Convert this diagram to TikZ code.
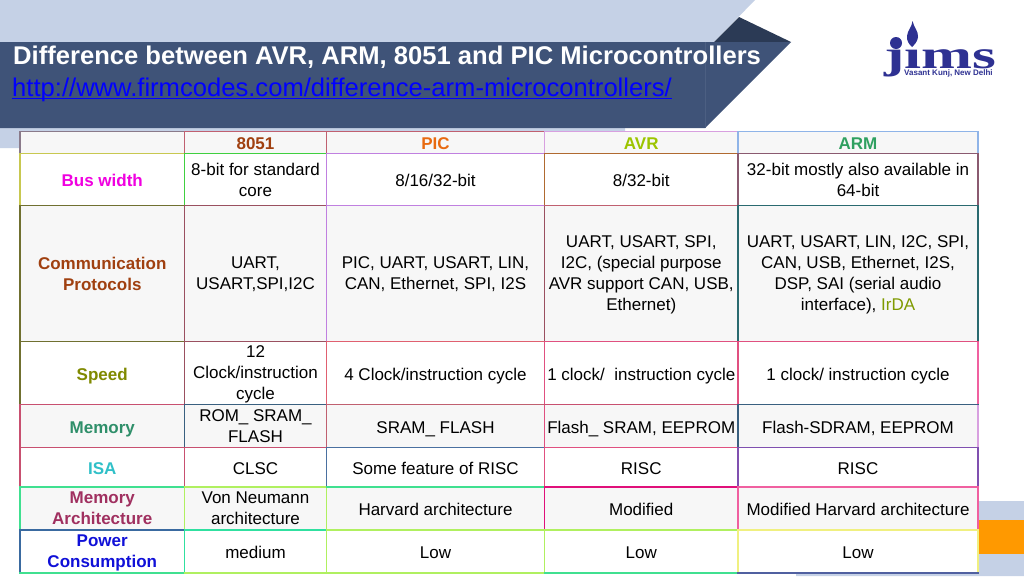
\documentclass[tikz,border=0pt]{standalone}
\usepackage{fontspec}
\setmainfont{Liberation Sans}
\newfontfamily\logofont{Liberation Serif}
\definecolor{bandL}{HTML}{C5D1E6}
\definecolor{bandD}{HTML}{3F5378}
\definecolor{bandT}{HTML}{2B3A55}
\definecolor{orng}{HTML}{FF9900}
\definecolor{logoB}{HTML}{2E3192}
\definecolor{tA}{HTML}{F000E0}
\definecolor{tB}{HTML}{A04010}
\definecolor{tC}{HTML}{E86A10}
\definecolor{tD}{HTML}{9CC400}
\definecolor{tE}{HTML}{2FA060}
\definecolor{tF}{HTML}{808A00}
\definecolor{tG}{HTML}{2F8F6A}
\definecolor{tH}{HTML}{30C0C8}
\definecolor{tI}{HTML}{A03060}
\definecolor{tJ}{HTML}{1010D8}
\definecolor{tK}{HTML}{7F9A00}
\definecolor{gA}{HTML}{8A7A8A}
\definecolor{gB}{HTML}{C06070}
\definecolor{gC}{HTML}{D8A0E0}
\definecolor{gD}{HTML}{8FB4E8}
\definecolor{gE}{HTML}{C8C850}
\definecolor{gF}{HTML}{40D040}
\definecolor{gG}{HTML}{C080E0}
\definecolor{gH}{HTML}{B06A30}
\definecolor{gI}{HTML}{8A5A70}
\definecolor{gJ}{HTML}{707030}
\definecolor{gK}{HTML}{9A5060}
\definecolor{gL}{HTML}{2A6A70}
\definecolor{gM}{HTML}{E06070}
\definecolor{gN}{HTML}{E05080}
\definecolor{gO}{HTML}{C85070}
\definecolor{gP}{HTML}{3A6080}
\definecolor{gQ}{HTML}{4A70A0}
\definecolor{gR}{HTML}{8050B0}
\definecolor{gS}{HTML}{40E090}
\definecolor{gT}{HTML}{B0F060}
\definecolor{gU}{HTML}{E0107A}
\definecolor{gV}{HTML}{F060A0}
\definecolor{gW}{HTML}{3A6AA0}
\definecolor{gX}{HTML}{30E0A0}
\definecolor{gY}{HTML}{F0F080}
\definecolor{gZ}{HTML}{5060A0}
\newcommand{\lowerA}{\rule[-3pt]{0pt}{0pt}}
\tikzset{
  tcell/.style={inner sep=0pt,outer sep=0pt,align=center,text=black,font=\fontsize{17}{21}\selectfont,anchor=north west,text depth=0pt,execute at begin node={\rule{0pt}{14pt}}},
  oddrow/.style={fill=white},
  evenrow/.style={fill=black!3},
  head/.style={font=\fontsize{17}{21}\selectfont\bfseries},
  gline/.style={line width=1.05pt,line cap=rect}
}
\begin{document}
\begin{tikzpicture}[x=1pt,y=-1pt]
\useasboundingbox (0,0) rectangle (1024,576);
\fill[white] (0,0) rectangle (1024,576);
% banner
\fill[bandL] (0,0) -- (755,0) -- (714,42) -- (0,42) -- cycle;
\fill[bandL] (0,128) -- (625,128) -- (625,132) -- (20,132) -- (20,148) -- (0,148) -- cycle;
\fill[bandT] (714,42) -- (739,17) -- (791,42) -- cycle;
\fill[bandD] (0,42) -- (791,42) -- (705,128) -- (0,128) -- cycle;
\draw[bandD!93!white,line width=.4pt] (705,42) -- (705,128);
% lower right decoration
\fill[bandL] (978,501) -- (1024,501) -- (1024,576) -- (796,576) -- (796,572) -- (978,572) -- cycle;
\fill[orng] (978,520) rectangle (1024,554);
% title
\node[anchor=base west,inner sep=0pt,text=white,font=\fontsize{25.6}{30}\selectfont\bfseries] (title) at (13,64) {Difference between AVR, ARM, 8051 and PIC Microcontrollers};
\node[anchor=base west,inner sep=0pt,text=blue,font=\fontsize{25.6}{30}\selectfont] (link) at (12,96) {http://www.firmcodes.com/difference-arm-microcontrollers/};
\draw[blue,line width=1.3pt] ([yshift=3pt]link.south west) -- ([yshift=3pt]link.south east);
% logo
\node[anchor=base west,inner sep=0pt,text=logoB,font=\fontsize{40}{40}\logofont\bfseries,xscale=1.53,transform shape,text depth=0pt] (logo) at (884,68.5) {jims};
\fill[white] (905,36) rectangle (922,49);
\fill[logoB] (896,43) circle (6);
\fill[logoB] (912.5,21) .. controls (914,28) and (918.5,31) .. (918,37) .. controls (917.5,42) and (914,45) .. (912,47) .. controls (909,44) and (906.5,41) .. (907,36) .. controls (907.5,30) and (912,27) .. (912.5,21) -- cycle;
\node[anchor=base west,inner sep=0pt,text=logoB,font=\fontsize{8}{8}\selectfont\bfseries] (logosub) at (904,75.5) {Vasant Kunj, New Delhi};
% table cells: row 0
\node[tcell,evenrow,minimum width=164.5pt,minimum height=22pt] (c00) at (20,131.5) {};
\node[tcell,evenrow,head,text=tB,minimum width=142pt,minimum height=22pt] (c01) at (184.5,131.5) {8051};
\node[tcell,evenrow,head,text=tC,minimum width=218pt,minimum height=22pt] (c02) at (326.5,131.5) {PIC};
\node[tcell,evenrow,head,text=tD,minimum width=193.5pt,minimum height=22pt] (c03) at (544.5,131.5) {AVR};
\node[tcell,evenrow,head,text=tE,minimum width=240pt,minimum height=22pt] (c04) at (738,131.5) {ARM};
% row 1
\node[tcell,oddrow,head,text=tA,minimum width=164.5pt,minimum height=52pt] (c10) at (20,153.5) {Bus width};
\node[tcell,oddrow,minimum width=142pt,minimum height=52pt] (c11) at (184.5,153.5) {8-bit for standard\\core};
\node[tcell,oddrow,minimum width=218pt,minimum height=52pt] (c12) at (326.5,153.5) {8/16/32-bit};
\node[tcell,oddrow,minimum width=193.5pt,minimum height=52pt] (c13) at (544.5,153.5) {8/32-bit};
\node[tcell,oddrow,minimum width=240pt,minimum height=52pt] (c14) at (738,153.5) {32-bit mostly also available in\\64-bit};
% row 2
\node[tcell,evenrow,head,text=tB,minimum width=164.5pt,minimum height=136pt] (c20) at (20,205.5) {Communication\\Protocols};
\node[tcell,evenrow,minimum width=142pt,minimum height=136pt] (c21) at (184.5,205.5) {UART,\\USART,SPI,I2C};
\node[tcell,evenrow,minimum width=218pt,minimum height=136pt] (c22) at (326.5,205.5) {PIC, UART, USART, LIN,\\CAN, Ethernet, SPI, I2S};
\node[tcell,evenrow,minimum width=193.5pt,minimum height=136pt] (c23) at (544.5,205.5) {UART, USART, SPI,\\I2C, (special purpose\\AVR support CAN, USB,\\Ethernet)};
\node[tcell,evenrow,minimum width=240pt,minimum height=136pt] (c24) at (738,205.5) {UART, USART, LIN, I2C, SPI,\\CAN, USB, Ethernet, I2S,\\DSP, SAI (serial audio\\interface), \textcolor{tK}{IrDA}};
% row 3
\node[tcell,oddrow,head,text=tF,minimum width=164.5pt,minimum height=63pt] (c30) at (20,341.5) {Speed};
\node[tcell,oddrow,minimum width=142pt,minimum height=63pt] (c31) at (184.5,341.5) {12\\Clock/instruction\\cycle};
\node[tcell,oddrow,minimum width=218pt,minimum height=63pt] (c32) at (326.5,341.5) {4 Clock/instruction cycle};
\node[tcell,oddrow,minimum width=193.5pt,minimum height=63pt] (c33) at (544.5,341.5) {1 clock/\ \ instruction cycle};
\node[tcell,oddrow,minimum width=240pt,minimum height=63pt] (c34) at (738,341.5) {1 clock/ instruction cycle};
% row 4
\node[tcell,evenrow,head,text=tG,minimum width=164.5pt,minimum height=43pt] (c40) at (20,404.5) {Memory};
\node[tcell,evenrow,minimum width=142pt,minimum height=43pt] (c41) at (184.5,404.5) {ROM\_ SRAM\_\\FLASH};
\node[tcell,evenrow,minimum width=218pt,minimum height=43pt] (c42) at (326.5,404.5) {SRAM\_ FLASH};
\node[tcell,evenrow,minimum width=193.5pt,minimum height=43pt] (c43) at (544.5,404.5) {Flash\_ SRAM, EEPROM};
\node[tcell,evenrow,minimum width=240pt,minimum height=43pt] (c44) at (738,404.5) {Flash-SDRAM, EEPROM};
% row 5
\node[tcell,oddrow,head,text=tH,minimum width=164.5pt,minimum height=39.5pt] (c50) at (20,447.5) {ISA};
\node[tcell,oddrow,minimum width=142pt,minimum height=39.5pt] (c51) at (184.5,447.5) {CLSC};
\node[tcell,oddrow,minimum width=218pt,minimum height=39.5pt] (c52) at (326.5,447.5) {Some feature of RISC};
\node[tcell,oddrow,minimum width=193.5pt,minimum height=39.5pt] (c53) at (544.5,447.5) {RISC};
\node[tcell,oddrow,minimum width=240pt,minimum height=39.5pt] (c54) at (738,447.5) {RISC};
% row 6
\node[tcell,evenrow,head,text=tI,minimum width=164.5pt,minimum height=43pt] (c60) at (20,487) {Memory\\Architecture};
\node[tcell,evenrow,minimum width=142pt,minimum height=43pt] (c61) at (184.5,487) {Von Neumann\\architecture};
\node[tcell,evenrow,minimum width=218pt,minimum height=43pt] (c62) at (326.5,487) {Harvard architecture};
\node[tcell,evenrow,minimum width=193.5pt,minimum height=43pt] (c63) at (544.5,487) {Modified};
\node[tcell,evenrow,minimum width=240pt,minimum height=43pt] (c64) at (738,487) {Modified Harvard architecture};
% row 7
\node[tcell,oddrow,head,text=tJ,minimum width=164.5pt,minimum height=43pt] (c70) at (20,530) {Power\\Consumption};
\node[tcell,oddrow,minimum width=142pt,minimum height=43pt] (c71) at (184.5,530) {medium};
\node[tcell,oddrow,minimum width=218pt,minimum height=43pt] (c72) at (326.5,530) {Low};
\node[tcell,oddrow,minimum width=193.5pt,minimum height=43pt] (c73) at (544.5,530) {Low};
\node[tcell,oddrow,minimum width=240pt,minimum height=43pt] (c74) at (738,530) {Low};
% vertical edges (left side of each cell, last one right side)
\foreach \r/\a/\b/\c/\d/\e/\f in {0/gA/gB/gB/gC/gD/gD,1/gE/gF/gG/gH/gI/gI,2/gJ/gK/gG/gK/gL/gL,3/gJ/gK/gM/gN/gN/gV,4/gO/gP/gB/gN/gP/gC,5/gO/gO/gQ/gN/gR/gR,6/gS/gT/gT/gU/gV/gV,7/gW/gX/gT/gT/gY/gY}{
  \foreach \k/\col in {0/\a,1/\b,2/\c,3/\d,4/\e}{
    \draw[gline,draw=\col] (c\r\k.north west) -- (c\r\k.south west);
  }
  \draw[gline,draw=\f] (c\r4.north east) -- (c\r4.south east);
}
% horizontal edges (top side of each cell)
\foreach \r/\a/\b/\c/\d/\e in {0/gA/gB/gB/gC/gD,1/gE/gF/gG/gH/gI,2/gJ/gK/gG/gB/gL,3/gJ/gK/gM/gN/gN,4/gO/gP/gB/gO/gP,5/gO/gO/gQ/gN/gR,6/gS/gT/gS/gU/gV,7/gW/gX/gT/gT/gY}{
  \foreach \k/\col in {0/\a,1/\b,2/\c,3/\d,4/\e}{
    \draw[gline,draw=\col] (c\r\k.north west) -- (c\r\k.north east);
  }
}
% bottom edge of the table
\foreach \k/\col in {0/gS,1/gT,2/gT,3/gS,4/gZ}{
  \draw[gline,draw=\col] (c7\k.south west) -- (c7\k.south east);
}
\end{tikzpicture}
\end{document}
